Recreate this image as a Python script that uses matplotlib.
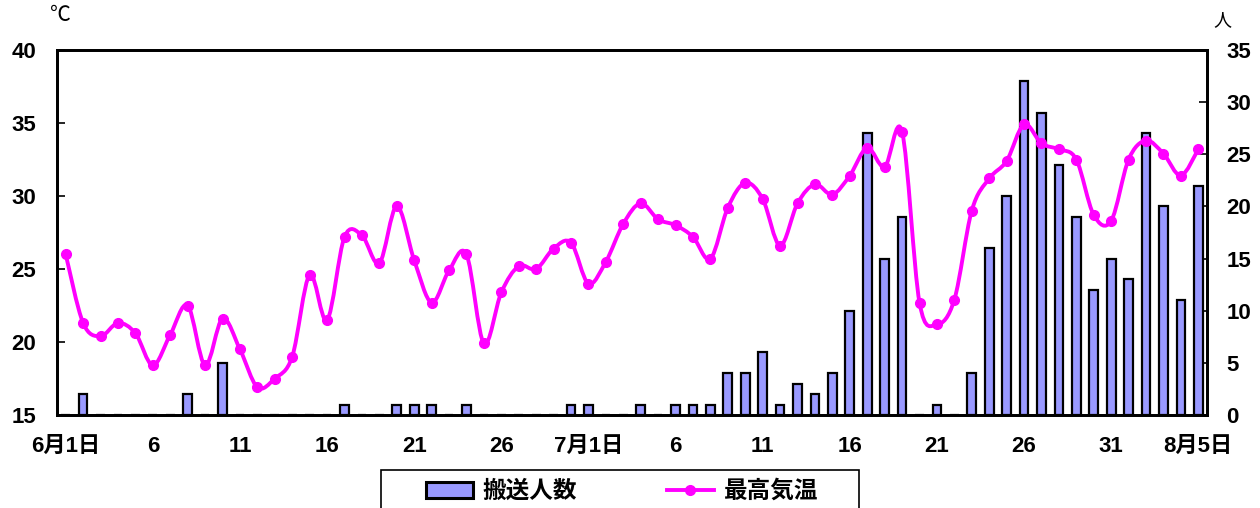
import matplotlib
matplotlib.use("Agg")
import matplotlib.pyplot as plt
from matplotlib.path import Path
from matplotlib.patches import PathPatch, Patch, Rectangle
from matplotlib.lines import Line2D
import numpy as np

plt.rcParams['font.family'] = ['Liberation Sans', 'Noto Sans CJK JP', 'DejaVu Sans']

# Data: June 1 .. Aug 5 (66 days)
temp = [26.0, 21.3, 20.4, 21.3, 20.6, 18.4, 20.5, 22.5, 18.4, 21.6,
        19.5, 16.9, 17.5, 19.0, 24.6, 21.5, 27.2, 27.3, 25.4, 29.3,
        25.6, 22.7, 24.9, 26.0, 19.9, 23.4, 25.2, 25.0, 26.4, 26.8,
        24.0, 25.5, 28.1, 29.5, 28.4, 28.0, 27.2, 25.7, 29.2, 30.9,
        29.8, 26.6, 29.5, 30.8, 30.1, 31.4, 33.3, 32.0, 34.4, 22.7,
        21.2, 22.9, 29.0, 31.2, 32.4, 34.9, 33.6, 33.2, 32.5, 28.7,
        28.3, 32.5, 33.8, 32.9, 31.4, 33.2]
people = [0, 2, 0, 0, 0, 0, 0, 2, 0, 5,
          0, 0, 0, 0, 0, 0, 1, 0, 0, 1,
          1, 1, 0, 1, 0, 0, 0, 0, 0, 1,
          1, 0, 0, 1, 0, 1, 1, 1, 4, 4,
          6, 1, 3, 2, 4, 10, 27, 15, 19, 0,
          1, 0, 4, 16, 21, 32, 29, 24, 19, 12,
          15, 13, 27, 20, 11, 22]
xtick_labels = ['6月1日', '6', '11', '16', '21', '26', '7月1日',
                '6', '11', '16', '21', '26', '31', '8月5日']
left_ticks = [15, 20, 25, 30, 35, 40]
right_ticks = [0, 5, 10, 15, 20, 25, 30, 35]

x = np.arange(len(temp))

fig = plt.figure(figsize=(12.6, 5.08), dpi=100)
ax = fig.add_axes([57/1260, 1-415/508, 1150/1260, 365/508])
ax2 = ax.twinx()

# bars on right axis
ax2.bar(x, people, width=0.5, color='#9999FF', edgecolor='black', linewidth=1.6, zorder=2)
ax2.set_ylim(0, 35)
ax2.set_yticks(right_ticks)

# smooth line on left axis (Bezier through points)
verts = [(x[0], temp[0])]
codes = [Path.MOVETO]
n = len(temp)
for i in range(n - 1):
    p0 = np.array([x[max(i-1, 0)], temp[max(i-1, 0)]], float)
    p1 = np.array([x[i], temp[i]], float)
    p2 = np.array([x[i+1], temp[i+1]], float)
    p3 = np.array([x[min(i+2, n-1)], temp[min(i+2, n-1)]], float)
    c1 = p1 + (p2 - p0) / 6.0
    c2 = p2 - (p3 - p1) / 6.0
    verts += [tuple(c1), tuple(c2), tuple(p2)]
    codes += [Path.CURVE4] * 3
ax.add_patch(PathPatch(Path(verts, codes), facecolor='none', edgecolor='#FF00FF',
                       linewidth=2.8, zorder=3, capstyle='round', joinstyle='round'))
ax.plot(x, temp, linestyle='none', marker='o', markersize=7, color='#FF00FF', zorder=4)

ax.set_ylim(15, 40)
ax.set_yticks(left_ticks)
ax.set_xlim(-0.5, len(temp) - 0.5)
ax.set_xticks(x[::5])
ax.set_xticklabels(xtick_labels)

ax.set_zorder(ax2.zorder + 1)
ax.patch.set_visible(False)

for a in (ax, ax2):
    for s in a.spines.values():
        s.set_linewidth(2)
        s.set_color('black')

ax.tick_params(axis='y', direction='in', length=6, width=1.2, labelsize=16, pad=15)
ax2.tick_params(axis='y', direction='in', length=6, width=1.2, labelsize=16, pad=14)
ax.tick_params(axis='x', length=0, labelsize=16, pad=15)
for lab in ax.get_xticklabels():
    lab.set_fontweight('bold')
for lab in ax.get_yticklabels() + ax2.get_yticklabels():
    lab.set_fontweight('semibold')

fig.text(60/1260, 1-15/508, '℃', fontsize=15, ha='center', va='center',
         family=['Noto Sans CJK JP', 'DejaVu Sans'])
fig.text(1222/1260, 1-20/508, '人', fontsize=13, ha='center', va='center',
         family=['Noto Sans CJK JP', 'DejaVu Sans'])

# legend frame
fig.patches.append(Rectangle((381/1260, -0.05), (859-381)/1260, 0.05 + (508-470)/508,
                             transform=fig.transFigure, facecolor='white',
                             edgecolor='black', linewidth=1.2, zorder=5))
handles = [Patch(facecolor='#9999FF', edgecolor='black', linewidth=2.2),
           Line2D([0], [0], color='#FF00FF', linewidth=2.8, marker='o', markersize=7)]
leg = fig.legend(handles, ['搬送人数', '最高気温'], loc='center',
                 bbox_to_anchor=(622/1260, 1-491/508), ncol=2, frameon=False,
                 columnspacing=3.8, handlelength=2.0, handleheight=0.65, handletextpad=0.4,
                 prop={'family': ['Noto Sans CJK JP', 'DejaVu Sans'], 'size': 17, 'weight': 'bold'})
leg.set_zorder(6)

fig.savefig('out.png', dpi=100)
